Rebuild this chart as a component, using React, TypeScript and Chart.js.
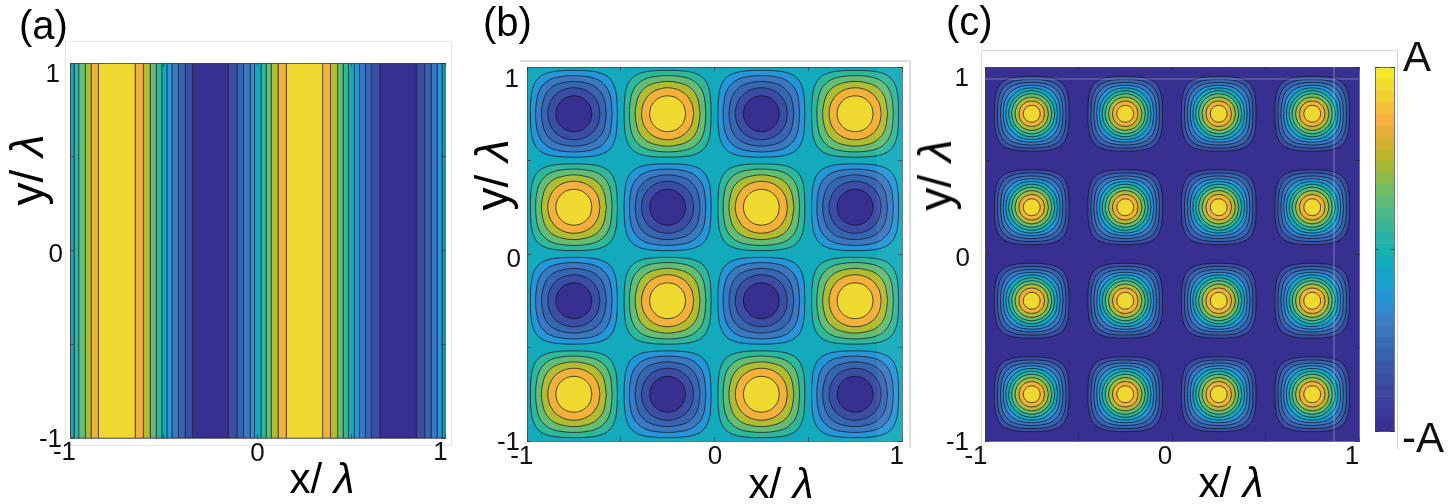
import React, { useEffect, useRef } from "react";
import { Chart, registerables } from "chart.js";

Chart.register(...registerables);

const FONT = '"Liberation Sans", Arial, sans-serif';

// colour levels, low to high
const levelColors = ["#383090", "#3b4ea4", "#3766b0", "#3a78c0", "#2596d8", "#12aabc", "#2fb79a", "#64bd72", "#b0bd32", "#f3b13c", "#efd931"];

// panel (a): stripe edges in x/lambda and the colour level of each stripe
const stripeEdges = [-1, -0.979, -0.954, -0.918, -0.888, -0.849, -0.653, -0.609, -0.573, -0.541, -0.511, -0.484, -0.457, -0.422, -0.386, -0.347, -0.155, -0.11, -0.075, -0.039, -0.016, 0.018, 0.045, 0.073, 0.109, 0.153, 0.347, 0.389, 0.427, 0.456, 0.485, 0.516, 0.544, 0.575, 0.607, 0.651, 0.845, 0.891, 0.925, 0.957, 0.984, 1];
const stripeLevels = [5, 6, 7, 8, 9, 10, 9, 8, 7, 6, 5, 4, 3, 2, 1, 0, 1, 2, 3, 4, 5, 6, 7, 8, 9, 10, 9, 8, 7, 6, 5, 4, 3, 2, 1, 0, 1, 2, 3, 4, 5];

// cell centres shared by panels (b) and (c)
const cellCentres = [-0.75, -0.25, 0.25, 0.75];

// one octant of each closed contour, [dx, dy] from the cell centre, outermost first
const contoursB = [
  [[0.232, 0], [0.228, 0.09], [0.215, 0.15], [0.19, 0.19]],
  [[0.204, 0], [0.197, 0.08], [0.182, 0.128], [0.159, 0.159]],
  [[0.173, 0], [0.164, 0.066], [0.15, 0.104], [0.13, 0.13]],
  [[0.139, 0], [0.13, 0.052], [0.116, 0.079], [0.1, 0.1]],
  [[0.096, 0], [0.089, 0.037], [0.08, 0.053], [0.068, 0.068]],
];
const contoursC = [
  [[0.2, 0], [0.196, 0.08], [0.183, 0.132], [0.163, 0.163]],
  [[0.183, 0], [0.179, 0.072], [0.165, 0.118], [0.146, 0.146]],
  [[0.167, 0], [0.161, 0.066], [0.148, 0.106], [0.129, 0.129]],
  [[0.152, 0], [0.145, 0.06], [0.131, 0.093], [0.114, 0.114]],
  [[0.138, 0], [0.13, 0.054], [0.117, 0.08], [0.1, 0.1]],
  [[0.123, 0], [0.114, 0.047], [0.102, 0.068], [0.087, 0.087]],
  [[0.107, 0], [0.099, 0.041], [0.089, 0.06], [0.076, 0.076]],
  [[0.089, 0], [0.082, 0.034], [0.074, 0.049], [0.063, 0.063]],
  [[0.068, 0], [0.063, 0.026], [0.057, 0.038], [0.048, 0.048]],
  [[0.045, 0], [0.042, 0.017], [0.037, 0.025], [0.032, 0.032]],
];
// sign of each cell in panel (b), rows from the bottom up
const cellSignsB = [
  [1, -1, 1, -1],
  [-1, 1, -1, 1],
  [1, -1, 1, -1],
  [-1, 1, -1, 1],
];
const levelsBPositive = [6, 7, 8, 9, 10];
const levelsBNegative = [4, 3, 2, 1, 0];
const levelsC = [1, 2, 3, 4, 5, 6, 7, 8, 9, 10];

const tickValues = [-1, 0, 1];
const tickSteps = 0.5;
const colorbarColors = ["#f4e72e", "#f2dc30", "#f0d032", "#f3c138", "#f5b03e", "#e8ae38", "#d4b02e", "#bdb52c", "#a4b936", "#8abc4c", "#73bd62", "#60ba78", "#4cb88a", "#38b69a", "#27b4a6", "#1ab0b0", "#10acbc", "#14a6c4", "#1c9ecf", "#2496d8", "#2f8cd0", "#3a80c6", "#3b76be", "#3a6cb6", "#3962ae", "#3b58a8", "#3c50a4", "#3c48a0", "#3b409c", "#3a3898", "#393294"];

const LINE = "rgba(15,15,35,0.8)";
const LINE_SOFT = "rgba(20,20,45,0.42)";
const AXIS = "rgba(70,70,80,0.75)";
const L = 62, T = 30, R = 30, B = 44;
const SOFTEN = "blur(0.4px)";

function polygon(pts, color, lineColor, width) {
  return {
    type: "scatter",
    showLine: true,
    data: pts.map(([x, y]) => ({ x, y })),
    backgroundColor: color,
    borderColor: lineColor,
    borderWidth: width,
    fill: "shape",
    pointRadius: 0,
    pointHoverRadius: 0,
    tension: 0,
  };
}

function loopFromOctant(octant, cx, cy) {
  const quarter = [...octant, ...octant.slice(0, -1).reverse().map(([a, b]) => [b, a])].slice(0, -1);
  const rot = [
    ([a, b]) => [a, b],
    ([a, b]) => [-b, a],
    ([a, b]) => [-a, -b],
    ([a, b]) => [b, -a],
  ];
  const pts = rot.flatMap((f) => quarter.map((p) => f(p))).map(([a, b]) => [cx + a, cy + b]);
  return [...pts, pts[0]];
}

const square = [[-1, -1], [1, -1], [1, 1], [-1, 1], [-1, -1]];

function stripeDatasets() {
  return stripeLevels.map((lvl, i) => {
    const a = stripeEdges[i], b = stripeEdges[i + 1];
    return polygon([[a, -1], [b, -1], [b, 1], [a, 1], [a, -1]], levelColors[lvl], LINE_SOFT, 1);
  });
}

function contourDatasets(contours, levelsFor, background) {
  const out = [];
  cellCentres.forEach((cx, c) => {
    cellCentres.forEach((cy, r) => {
      const levels = levelsFor(r, c);
      contours.forEach((oct, k) => {
        out.push({ ...polygon(loopFromOctant(oct, cx, cy), levelColors[levels[k]], LINE, 0.9), tension: 0.4, order: -k });
      });
    });
  });
  out.push({ ...polygon(square, levelColors[background], "transparent", 0), order: 100 });
  return out;
}

const nudgePlugin = {
  id: "nudge",
  beforeDraw(chart) {
    const cfg = chart.options.plugins.nudge || {};
    for (const id of Object.keys(cfg)) {
      const scale = chart.scales[id];
      if (!scale || scale.$nudged) continue;
      scale.$nudged = true;
      for (const item of scale.getLabelItems()) {
        const d = cfg[id][item.label];
        if (d) {
          item.options.translation[0] += d[0];
          item.options.translation[1] += d[1];
        }
      }
    }
  },
};

const tickMark = { drawOnChartArea: false, tickLength: -4, tickColor: "rgba(30,30,50,0.55)", z: 1 };
const edge = { display: true, color: AXIS, width: 1, z: 1 };

function fit(size) {
  return (scale) => {
    if (scale.isHorizontal()) scale.height = size;
    else scale.width = size;
  };
}

function panelScales() {
  const label = (v) => (tickValues.includes(v) ? String(v) : "");
  const base = { type: "linear", min: -1, max: 1, grid: tickMark, border: edge };
  const font = { family: FONT, size: 26 };
  const ticks = { stepSize: tickSteps, autoSkip: false, maxRotation: 0, color: "#111", font, callback: label, padding: 4 };
  const hidden = { stepSize: tickSteps, display: false };
  return {
    x: { ...base, position: "bottom", ticks, afterFit: fit(B) },
    y: { ...base, position: "left", ticks, afterFit: fit(L) },
    xTop: { ...base, axis: "x", position: "top", ticks: hidden, afterFit: fit(0) },
    yRight: { ...base, axis: "y", position: "right", ticks: hidden, afterFit: fit(0) },
  };
}

const panels = [
  {
    rect: [70, 63, 375, 375],
    datasets: stripeDatasets(),
    nudge: {
      x: { "-1": [-5.5, -1], "0": [0, 0], "1": [-4.5, -1] },
      y: { "1": [-10, 12], "0": [-7, 4.5], "-1": [-8, 2] },
    },
  },
  {
    rect: [527, 67, 375, 374],
    datasets: contourDatasets(contoursB, (r, c) => (cellSignsB[r][c] > 0 ? levelsBPositive : levelsBNegative), 5),
    nudge: {
      x: { "-1": [-5.3, 0], "0": [0.5, 0], "1": [-5.3, 0] },
      y: { "1": [-8, 13], "0": [-6, 6], "-1": [-7, 2] },
    },
  },
  {
    rect: [985, 67, 374, 374],
    datasets: contourDatasets(contoursC, () => levelsC, 0),
    nudge: {
      x: { "-1": [-9, 0], "0": [-7, 0], "1": [-7, 0] },
      y: { "1": [-16, 12], "0": [-15, 5], "-1": [-16, 2] },
    },
  },
];

const panelLetters = [
  { text: "(a)", x: 19, y: 5 },
  { text: "(b)", x: 483, y: 2 },
  { text: "(c)", x: 946, y: 1 },
];
const xTitles = [
  { x: 322, y: 459 },
  { x: 781, y: 464 },
  { x: 1231, y: 463 },
];
const yTitles = [
  { x: 27, y: 170 },
  { x: 492, y: 175 },
  { x: 935, y: 175 },
];
const frames = [
  { left: 65, top: 41, width: 387, height: 405, border: "1.5px solid #e6e6e6" },
  { left: 520, top: 60, width: 391, height: 388, borderTop: "2px solid #dedede", borderRight: "2px solid #dedede" },
  { left: 981, top: 50, width: 417, height: 399, borderTop: "1.5px solid #dedede", borderLeft: "1.5px solid #dedede", borderRight: "1.5px solid #d0d0d0" },
];
const streaks = [
  { left: 877, top: 67, width: 25, height: 374, background: "rgba(255,255,255,0.05)" },
  { left: 985, top: 78, width: 374, height: 1.5, background: "rgba(255,255,255,0.16)" },
  { left: 1333, top: 67, width: 2, height: 374, background: "rgba(255,255,255,0.18)" },
];

function useCharts(refs) {
  useEffect(() => {
    const charts = panels.map((p, i) => {
      return new Chart(refs.current[i], {
        type: "scatter",
        data: { datasets: p.datasets },
        plugins: [nudgePlugin],
        options: {
          responsive: false,
          animation: false,
          events: [],
          layout: { padding: { top: T, right: R, left: 0, bottom: 0 } },
          plugins: { legend: { display: false }, tooltip: { enabled: false }, nudge: p.nudge },
          scales: panelScales(),
        },
      });
    });
    const barLabels = { 0: "-A", 31: "A" };
    const colorbar = new Chart(refs.current[panels.length], {
      type: "bar",
      data: {
        labels: [""],
        datasets: [...colorbarColors].reverse().map((c) => ({ data: [1], backgroundColor: c, barPercentage: 1, categoryPercentage: 1, stack: "s" })),
      },
      plugins: [nudgePlugin],
      options: {
        responsive: false,
        animation: false,
        events: [],
        layout: { padding: { top: T, right: 0, left: 0, bottom: 0 } },
        plugins: {
          legend: { display: false },
          tooltip: { enabled: false },
          nudge: { y: { A: [9, -8], "-A": [8, 9] } },
        },
        scales: {
          x: { type: "category", stacked: true, grid: { display: false }, border: edge, ticks: { display: false }, afterFit: fit(20) },
          xTop: { type: "category", axis: "x", position: "top", grid: { display: false }, border: edge, ticks: { display: false }, afterFit: fit(0) },
          y: {
            type: "linear",
            position: "right",
            min: 0,
            max: 31,
            stacked: true,
            grid: tickMark,
            border: edge,
            ticks: { stepSize: 15.5, autoSkip: false, color: "#111", font: { family: FONT, size: 42 }, padding: 4, callback: (v) => barLabels[v] || "" },
            afterFit: fit(60),
          },
          yLeft: { type: "linear", axis: "y", position: "left", min: 0, max: 31, grid: tickMark, border: edge, ticks: { stepSize: 15.5, display: false }, afterFit: fit(0) },
        },
      },
    });
    return () => {
      charts.forEach((c) => c.destroy());
      colorbar.destroy();
    };
  }, []);
}

export default function App() {
  const refs = useRef([]);
  useCharts(refs);
  const abs = { position: "absolute" };
  return (
    <div style={{ ...abs, left: 0, top: 0, width: 1450, height: 504, overflow: "hidden", background: "#fff", fontFamily: FONT, color: "#000" }}>
      {frames.map((f, i) => (
        <div key={i} style={{ ...abs, boxSizing: "border-box", ...f }} />
      ))}
      {panels.map((p, i) => (
        <canvas
          key={i}
          ref={(el) => {
            refs.current[i] = el;
          }}
          width={p.rect[2] + L + R}
          height={p.rect[3] + T + B}
          style={{ ...abs, left: p.rect[0] - L, top: p.rect[1] - T, width: p.rect[2] + L + R, height: p.rect[3] + T + B, filter: SOFTEN }}
        />
      ))}
      <canvas
        ref={(el) => {
          refs.current[panels.length] = el;
        }}
        width={79}
        height={424}
        style={{ ...abs, left: 1375, top: 37, width: 79, height: 424, filter: SOFTEN }}
      />
      {streaks.map((s, i) => (
        <div key={i} style={{ ...abs, ...s }} />
      ))}
      {panelLetters.map((t) => (
        <span key={t.text} style={{ ...abs, left: t.x, top: t.y, fontSize: 40, lineHeight: "40px" }}>
          {t.text}
        </span>
      ))}
      {xTitles.map((t, i) => (
        <span key={i} style={{ ...abs, left: t.x, top: t.y, fontSize: 42, lineHeight: "40px", transform: "translateX(-50%)", whiteSpace: "pre" }}>
          x/ <i>λ</i>
        </span>
      ))}
      {yTitles.map((t, i) => (
        <span key={i} style={{ ...abs, left: t.x, top: t.y, fontSize: 46, lineHeight: "46px", transform: "translate(-50%,-50%) rotate(-90deg)", whiteSpace: "pre" }}>
          y/ <i>λ</i>
        </span>
      ))}
    </div>
  );
}
